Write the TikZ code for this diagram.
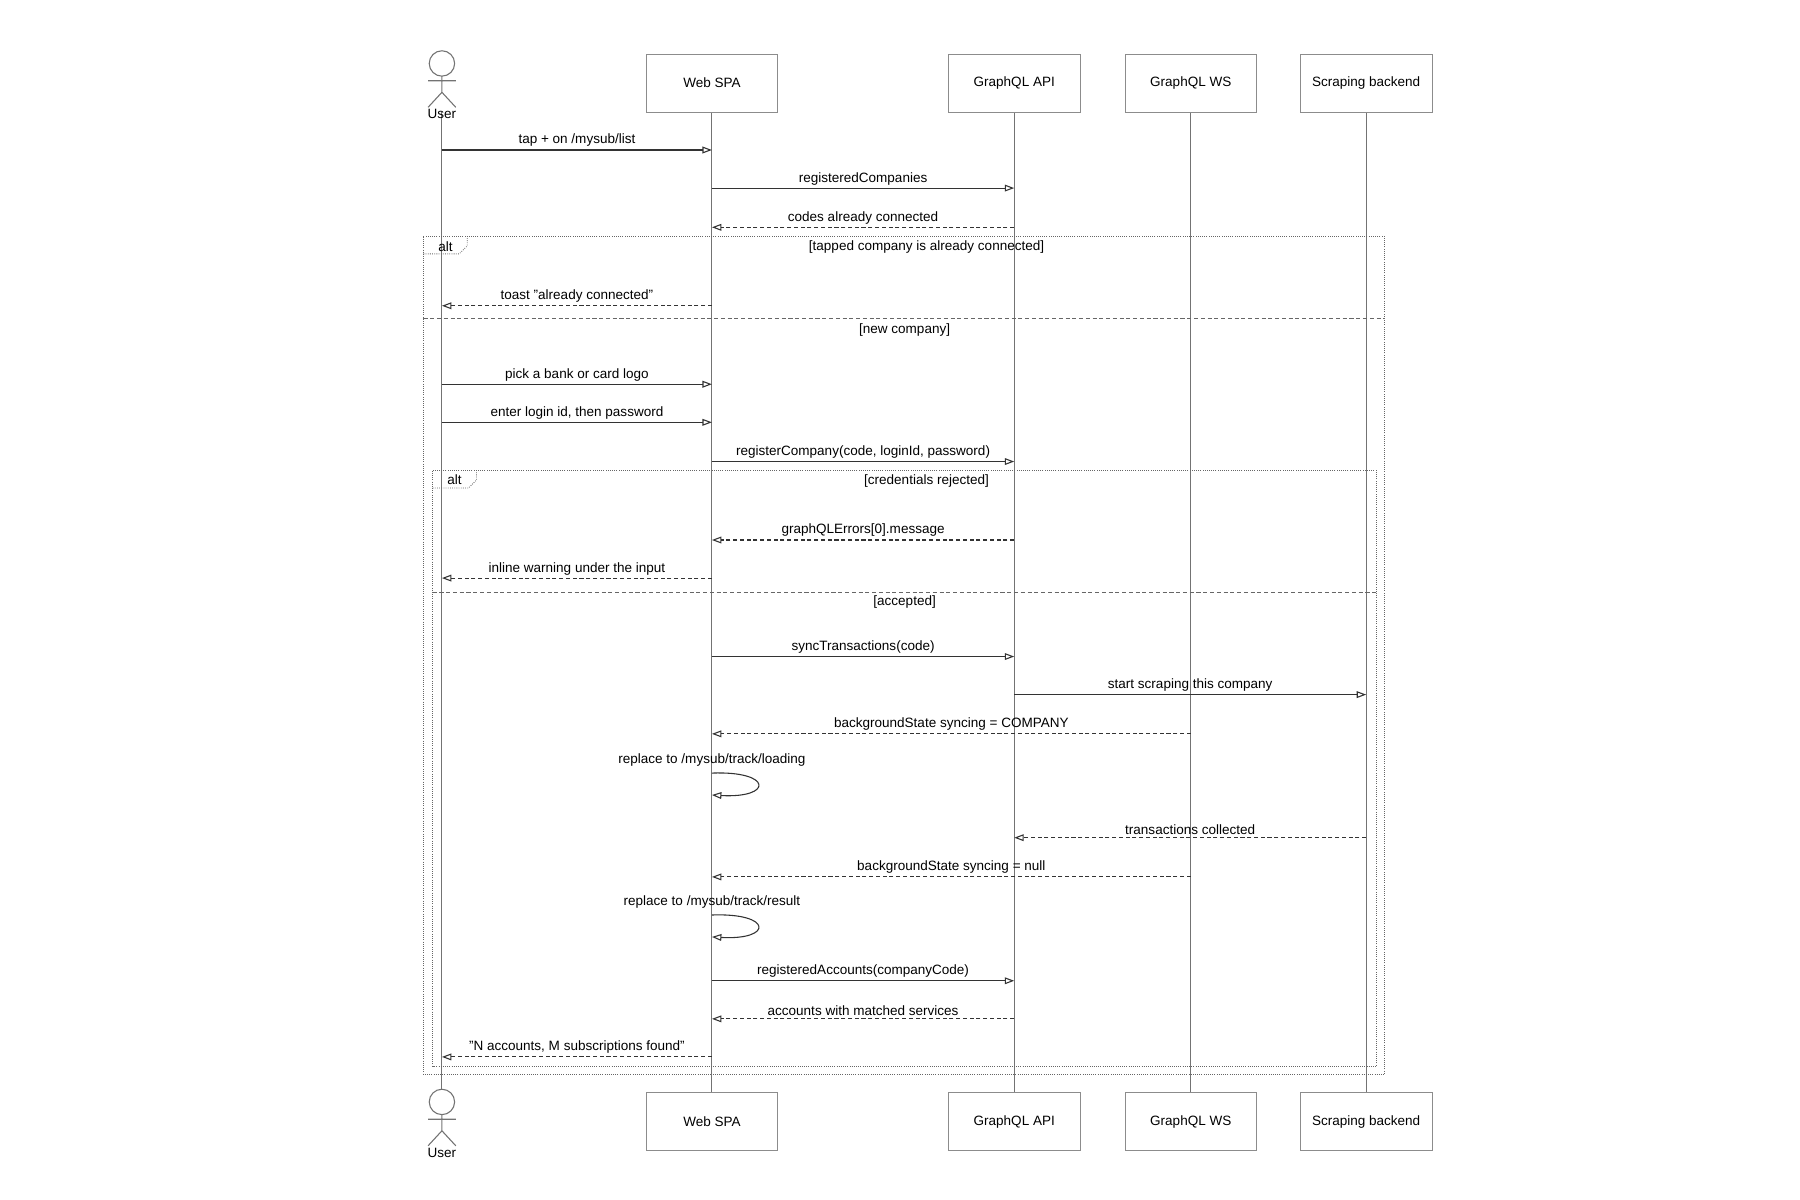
\documentclass[tikz,border=0pt]{standalone}
\usepackage{fontspec}
\setmainfont{Liberation Sans}
\usetikzlibrary{arrows.meta}
\begin{document}
\begin{tikzpicture}[x=0.03cm, y=-0.03cm, font=\fontsize{10}{12}\selectfont,
  actor box/.style={draw=black!45, fill=white, minimum width=3.42cm, minimum height=1.5cm, inner sep=0pt},
  life/.style={draw=black!55, line width=0.8pt},
  msg/.style={draw=black!80, line width=0.8pt, -{Triangle[open, length=7pt, width=5pt]}},
  reply/.style={msg, densely dashed},
  lbl/.style={above=1pt, inner sep=1pt},
  frame/.style={draw=black!60, densely dotted, line width=0.6pt},
  sep/.style={draw=black!60, densely dashed, line width=0.6pt},
  cond/.style={inner sep=0pt}]
  \useasboundingbox (0,0) rectangle (1560,1040);
  % lifelines
  \coordinate (user) at (383,0);
  \coordinate (spa) at (617,0);
  \coordinate (api) at (879,0);
  \coordinate (ws) at (1032,0);
  \coordinate (scr) at (1184,0);
  \foreach \p in {user,spa,api,ws,scr}
    \draw[life] (\p |- 0,97) -- (\p |- 0,947);
  % participants
  \node[actor box] (spaT) at (617,72) {Web SPA};
  \node[actor box] (apiT) at (879,72) {GraphQL API};
  \node[actor box] (wsT) at (1032,72) {GraphQL WS};
  \node[actor box] (scrT) at (1184,72) {Scraping backend};
  \node[actor box] (spaB) at (617,972) {Web SPA};
  \node[actor box] (apiB) at (879,972) {GraphQL API};
  \node[actor box] (wsB) at (1032,972) {GraphQL WS};
  \node[actor box] (scrB) at (1184,972) {Scraping backend};
  \foreach \y/\n in {0/userT,900/userB}{
    \draw[black!55, fill=white, line width=0.8pt] (383,55+\y) circle (11);
    \draw[black!55, line width=0.8pt] (383,66+\y) -- (383,80+\y) (371,70+\y) -- (395,70+\y)
      (371,93+\y) -- (383,80+\y) -- (395,93+\y);
    \node (\n) at (383,99+\y) {User};
  }
  % frames
  \draw[frame, fill=white, fill opacity=0] (367,205) rectangle (1200,931);
  \draw[frame] (367,220) -- (398,220) -- (405,213) -- (405,205);
  \node (alt1) at (386,214) {alt};
  \node[cond] (c1) at (803,214) {[tapped company is already connected]};
  \draw[sep] (367,276) -- (1200,276);
  \node[cond] (c2) at (784,286) {[new company]};
  \draw[frame] (375,408) rectangle (1193,924);
  \draw[frame] (375,423) -- (406,423) -- (413,416) -- (413,408);
  \node (alt2) at (394,416) {alt};
  \node[cond] (c3) at (803,417) {[credentials rejected]};
  \draw[sep] (375,513) -- (1193,513);
  \node[cond] (c4) at (784,522) {[accepted]};
  % messages
  \draw[msg] (user |- 0,130) -- node[lbl] {tap + on /mysub/list} (spa |- 0,130);
  \draw[msg] (spa |- 0,163) -- node[lbl] {registeredCompanies} (api |- 0,163);
  \draw[reply] (api |- 0,197) -- node[lbl] {codes already connected} (spa |- 0,197);
  \draw[reply] (spa |- 0,265) -- node[lbl] {toast "already connected"} (user |- 0,265);
  \draw[msg] (user |- 0,333) -- node[lbl] {pick a bank or card logo} (spa |- 0,333);
  \draw[msg] (user |- 0,366) -- node[lbl] {enter login id, then password} (spa |- 0,366);
  \draw[msg] (spa |- 0,400) -- node[lbl] {registerCompany(code, loginId, password)} (api |- 0,400);
  \draw[reply] (api |- 0,468) -- node[lbl] {graphQLErrors[0].message} (spa |- 0,468);
  \draw[reply] (spa |- 0,501) -- node[lbl] {inline warning under the input} (user |- 0,501);
  \draw[msg] (spa |- 0,569) -- node[lbl] {syncTransactions(code)} (api |- 0,569);
  \draw[msg] (api |- 0,602) -- node[lbl] {start scraping this company} (scr |- 0,602);
  \draw[reply] (ws |- 0,636) -- node[lbl] {backgroundState syncing = COMPANY} (spa |- 0,636);
  \node (self1) at (617,659) {replace to /mysub/track/loading};
  \draw[msg] (spa |- 0,670) .. controls (670,668) and (670,692) .. (spa |- 0,689);
  \draw[reply] (scr |- 0,726) -- node[lbl] {transactions collected} (api |- 0,726);
  \draw[reply] (ws |- 0,760) -- node[lbl] {backgroundState syncing = null} (spa |- 0,760);
  \node (self2) at (617,782) {replace to /mysub/track/result};
  \draw[msg] (spa |- 0,793) .. controls (670,791) and (670,815) .. (spa |- 0,812);
  \draw[msg] (spa |- 0,850) -- node[lbl] {registeredAccounts(companyCode)} (api |- 0,850);
  \draw[reply] (api |- 0,883) -- node[lbl] {accounts with matched services} (spa |- 0,883);
  \draw[reply] (spa |- 0,916) -- node[lbl] {"N accounts, M subscriptions found"} (user |- 0,916);
\end{tikzpicture}
\end{document}
